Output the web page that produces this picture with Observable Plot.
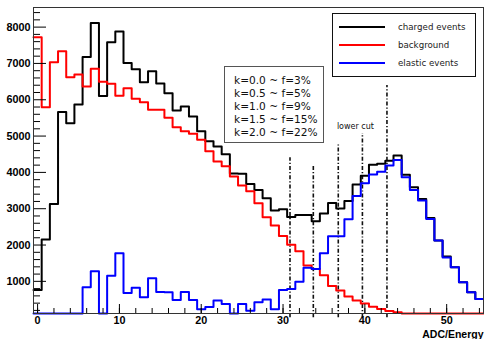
<!DOCTYPE html>
<html><head><meta charset="utf-8">
<script src="https://cdn.jsdelivr.net/npm/d3@7"></script>
<script src="https://cdn.jsdelivr.net/npm/@observablehq/plot@0.6"></script>
<style>
body{margin:0;background:#fff;}
#wrap{position:relative;width:484px;height:339px;overflow:hidden;}
.box{position:absolute;background:#fff;box-sizing:border-box;font-family:"DejaVu Sans",sans-serif;}
#legend{left:332px;top:13px;width:144px;height:64px;border:1px solid #111;}
#legend .row{position:absolute;left:0;height:0;}
#legend .sw{position:absolute;left:6px;top:-1px;width:46px;height:1.5px;}
#legend .lab{position:absolute;left:65px;top:-6px;font-size:8.7px;color:#222;white-space:nowrap;line-height:12px;}
#kbox{left:224px;top:66px;width:100px;height:77px;border:1px solid #555;}
#kbox div{position:absolute;left:9px;font-size:10.6px;color:#111;white-space:nowrap;line-height:13px;}
</style></head>
<body><div id="wrap"></div>
<script>
// ---- data (bin contents, 1 unit wide bins centred on 0..54) ----
const charged = [760, 2150, 3130, 5660, 5355, 5870, 7175, 8110, 6100, 7585, 7880, 7010, 6840, 6485, 6785, 6450, 6180, 5705, 5815, 5540, 5135, 4860, 4715, 4500, 3970, 3960, 3680, 3518, 3285, 2950, 2985, 2775, 2825, 2830, 2655, 2870, 3160, 3005, 3210, 3670, 3910, 4210, 4235, 4320, 4464, 3935, 3590, 3270, 2747, 2122, 1681, 1386, 973, 698, 514];
const background = [7724, 5795, 7035, 7338, 6622, 6696, 6365, 6853, 6494, 6440, 6109, 6319, 6026, 5933, 5723, 5723, 5503, 5244, 5134, 5061, 4896, 4583, 4300, 4170, 3885, 3637, 3480, 3150, 2764, 2535, 2250, 2010, 1830, 1440, 1340, 1170, 870, 745, 585, 470, 390, 300, 240, 185, 150, 100, 70, 50, 30, 20, 12, 8, 5, 3, 2];
const elastic = [0, 0, 0, 0, 0, 0, 836, 1276, 0, 1157, 1772, 680, 826, 560, 1084, 705, 700, 490, 705, 487, 235, 295, 475, 375, 0, 376, 190, 427, 500, 235, 762, 790, 990, 1375, 1341, 1772, 2245, 2245, 2710, 3350, 3700, 3945, 4020, 4190, 4340, 3866, 3518, 3224, 2720, 2122, 1660, 1386, 973, 698, 514];
const seriesNames = ["charged events", "background", "elastic events"];
const seriesColors = ["#000000", "#ff0000", "#0000ff"];
const cutX = [30.85, 33.7, 36.75, 39.7, 42.7];
const cutTop = [4400, 4220, 4760, 5070, 6390];
const cutLabel = "lower cut";
const kLabels = ["k=0.0 ~ f=3%", "k=0.5 ~ f=5%", "k=1.0 ~ f=9%", "k=1.5 ~ f=15%", "k=2.0 ~ f=22%"];
const xMajor = [0, 10, 20, 30, 40, 50];
const xMinor = [0,2,4,6,8,10,12,14,16,18,20,22,24,26,28,30,32,34,36,38,40,42,44,46,48,50,52,54];
const yMajor = [1000, 2000, 3000, 4000, 5000, 6000, 7000, 8000];
const yMinor = [200,400,600,800,1200,1400,1600,1800,2200,2400,2600,2800,3200,3400,3600,3800,4200,4400,4600,4800,5200,5400,5600,5800,6200,6400,6600,6800,7200,7400,7600,7800,8200,8400];
const xTitle = "ADC/Energy";

// ---- layout ----
const W = 484, H = 339, mL = 33, mR = 1, mT = 7, mB = 26;
const plotW = W - mL - mR, plotH = H - mT - mB;
const yMin = 115, yMax = 8540;

function steps(vals) {
  const pts = vals.map((v, i) => ({x: i - 0.5, y: v}));
  pts.push({x: vals.length - 0.5, y: vals[vals.length - 1]});
  return pts;
}
const clampY = d => Math.max(d.y, yMin);
const cuts = cutX.map((x, i) => ({x, top: cutTop[i]}));

const chart = Plot.plot({
  width: W, height: H,
  marginLeft: mL, marginRight: mR, marginTop: mT, marginBottom: mB,
  style: {fontFamily: "'Liberation Sans', Arial, sans-serif", background: "#fff"},
  x: {domain: [-0.5, 54.5], axis: null},
  y: {domain: [yMin, yMax], axis: null},
  marks: [
    Plot.ruleX(cuts, {x: "x", y1: 0, y2: "top", stroke: "#111", strokeWidth: 1.6, strokeDasharray: "4,2,1.2,2"}),
    Plot.text([{x: cutX[3], top: cutTop[3], t: cutLabel}], {x: "x", y: "top", text: "t", dx: -7, dy: -7.5, fontSize: 8, fontFamily: "'DejaVu Sans', sans-serif", fill: "#111"}),
    Plot.line(steps(charged), {x: "x", y: clampY, curve: "step-after", stroke: seriesColors[0], strokeWidth: 2}),
    Plot.line(steps(background), {x: "x", y: clampY, curve: "step-after", stroke: seriesColors[1], strokeWidth: 2}),
    Plot.line(steps(elastic), {x: "x", y: clampY, curve: "step-after", stroke: seriesColors[2], strokeWidth: 2}),
    Plot.tickY(yMinor, {y: d => d, insetRight: plotW - 7, stroke: "#000"}),
    Plot.tickY(yMajor, {y: d => d, insetRight: plotW - 13, stroke: "#000"}),
    Plot.tickX(xMinor, {x: d => d, insetTop: plotH - 5, stroke: "#000"}),
    Plot.tickX(xMajor, {x: d => d, insetTop: plotH - 9, stroke: "#000"}),
    Plot.axisY({ticks: yMajor, tickSize: 0, tickPadding: 3, fontWeight: "bold", fontSize: 10.8, tickFormat: d => String(d), label: null}),
    Plot.axisX({ticks: xMajor, tickSize: 0, tickPadding: 3, fontWeight: "bold", fontSize: 10.8, tickFormat: d => String(d), label: null}),
    Plot.text([xTitle], {frameAnchor: "bottom-right", text: d => d, dy: 21, lineAnchor: "middle", textAnchor: "end", fontWeight: "bold", fontSize: 10.5}),
    Plot.frame({stroke: "#333", strokeWidth: 1})
  ]
});

const wrap = document.getElementById("wrap");
wrap.appendChild(chart);

// legend
const legend = document.createElement("div");
legend.className = "box"; legend.id = "legend";
const rowY = [13, 31, 49];
seriesNames.forEach((name, i) => {
  const row = document.createElement("div");
  row.className = "row"; row.style.top = rowY[i] + "px";
  const sw = document.createElement("div");
  sw.className = "sw"; sw.style.background = seriesColors[i];
  const lab = document.createElement("div");
  lab.className = "lab"; lab.textContent = name;
  row.appendChild(sw); row.appendChild(lab);
  legend.appendChild(row);
});
wrap.appendChild(legend);

// k / f box
const kbox = document.createElement("div");
kbox.className = "box"; kbox.id = "kbox";
kLabels.forEach((t, i) => {
  const d = document.createElement("div");
  d.style.top = (7 + i * 13.1) + "px";
  d.textContent = t;
  kbox.appendChild(d);
});
wrap.appendChild(kbox);
</script>
</body></html>
